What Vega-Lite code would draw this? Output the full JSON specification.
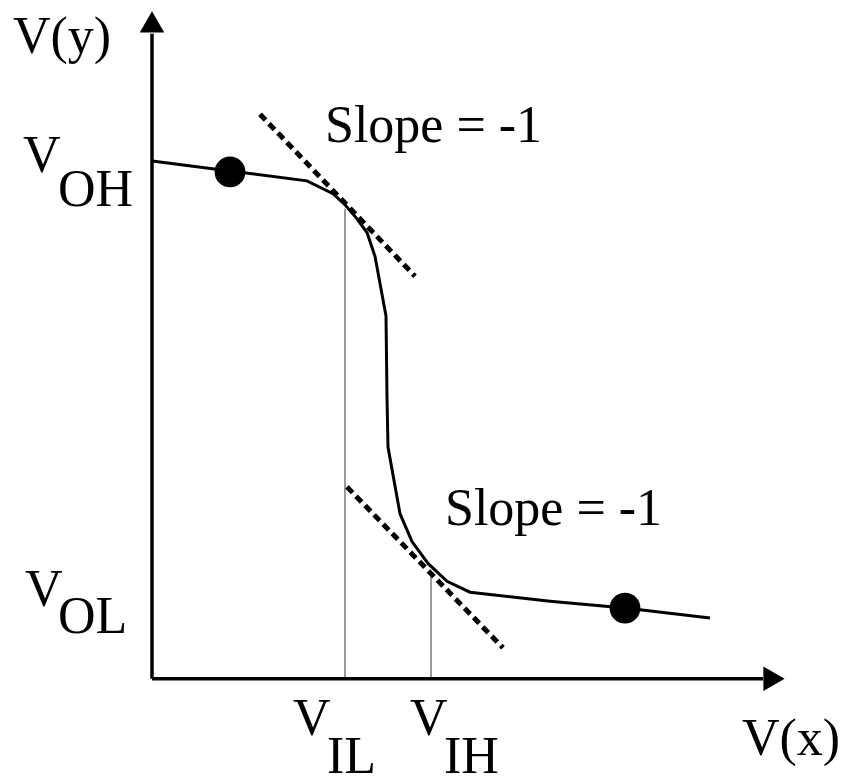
{
  "$schema": "https://vega.github.io/schema/vega-lite/v6.json",
  "width": 842,
  "height": 783,
  "padding": 0,
  "autosize": {"type": "fit", "contains": "padding"},
  "background": "white",
  "config": {"view": {"stroke": null}},
  "datasets": {
    "curve": [
      {"i": 0, "x": 0, "y": 521},
      {"i": 1, "x": 78, "y": 511},
      {"i": 2, "x": 155, "y": 501},
      {"i": 3, "x": 181, "y": 488},
      {"i": 4, "x": 193, "y": 477},
      {"i": 5, "x": 204, "y": 464},
      {"i": 6, "x": 215, "y": 449},
      {"i": 7, "x": 223, "y": 425},
      {"i": 8, "x": 234, "y": 365},
      {"i": 9, "x": 235, "y": 283},
      {"i": 10, "x": 236, "y": 233},
      {"i": 11, "x": 248, "y": 166},
      {"i": 12, "x": 260, "y": 138},
      {"i": 13, "x": 276, "y": 116},
      {"i": 14, "x": 295, "y": 98},
      {"i": 15, "x": 318, "y": 87},
      {"i": 16, "x": 398, "y": 78},
      {"i": 17, "x": 473, "y": 71},
      {"i": 18, "x": 558, "y": 61}
    ],
    "tangents": [
      {"seg": "upper", "x": 108, "y": 568},
      {"seg": "upper", "x": 263, "y": 405},
      {"seg": "lower", "x": 195, "y": 193},
      {"seg": "lower", "x": 351, "y": 31}
    ],
    "guides": [
      {"name": "VIL", "x": 193, "y": 473, "y2": 0},
      {"name": "VIH", "x": 279, "y": 106, "y2": 0}
    ],
    "axes": [
      {"name": "yaxis", "x": 0, "y": 0, "x2": 0, "y2": 649},
      {"name": "xaxis", "x": 0, "y": 0, "x2": 611, "y2": 0}
    ],
    "arrows": [
      {"name": "up", "x": 0, "y": 661, "shape": "triangle-up"},
      {"name": "right", "x": 622, "y": 0, "shape": "triangle-right"}
    ],
    "dots": [
      {"x": 78, "y": 510},
      {"x": 473, "y": 71}
    ],
    "labels": [
      {"x": -139, "y": 630, "label": "V(y)"},
      {"x": -129, "y": 510, "label": "V"},
      {"x": -94, "y": 476, "label": "OH"},
      {"x": -127, "y": 73, "label": "V"},
      {"x": -94, "y": 46, "label": "OL"},
      {"x": 141, "y": -57, "label": "V"},
      {"x": 175, "y": -95, "label": "IL"},
      {"x": 258, "y": -57, "label": "V"},
      {"x": 292, "y": -95, "label": "IH"},
      {"x": 590, "y": -77, "label": "V(x)"},
      {"x": 173, "y": 540, "label": "Slope = -1"},
      {"x": 293, "y": 155, "label": "Slope = -1"}
    ]
  },
  "encoding": {
    "x": {"field": "x", "type": "quantitative", "axis": null, "scale": {"domain": [-152, 690], "nice": false, "zero": false}},
    "y": {"field": "y", "type": "quantitative", "axis": null, "scale": {"domain": [-100, 683], "nice": false, "zero": false}}
  },
  "layer": [
    {
      "data": {"name": "guides"},
      "mark": {"type": "rule", "color": "#999999", "strokeWidth": 2},
      "encoding": {"y2": {"field": "y2"}}
    },
    {
      "data": {"name": "axes"},
      "mark": {"type": "rule", "color": "black", "strokeWidth": 3.5},
      "encoding": {"x2": {"field": "x2"}, "y2": {"field": "y2"}}
    },
    {
      "data": {"name": "arrows"},
      "mark": {"type": "point", "filled": true, "color": "black", "opacity": 1, "size": 600},
      "encoding": {"shape": {"field": "shape", "type": "nominal", "scale": null, "legend": null}}
    },
    {
      "data": {"name": "tangents"},
      "mark": {"type": "line", "color": "black", "strokeWidth": 5, "strokeDash": [8, 5]},
      "encoding": {"detail": {"field": "seg", "type": "nominal"}}
    },
    {
      "data": {"name": "curve"},
      "mark": {"type": "line", "color": "black", "strokeWidth": 3},
      "encoding": {"order": {"field": "i", "type": "quantitative"}}
    },
    {
      "data": {"name": "dots"},
      "mark": {"type": "point", "shape": "circle", "filled": true, "color": "black", "opacity": 1, "size": 950}
    },
    {
      "data": {"name": "labels"},
      "mark": {"type": "text", "font": "Liberation Serif", "fontSize": 52, "align": "left", "baseline": "alphabetic", "color": "black"},
      "encoding": {"text": {"field": "label"}}
    }
  ]
}
